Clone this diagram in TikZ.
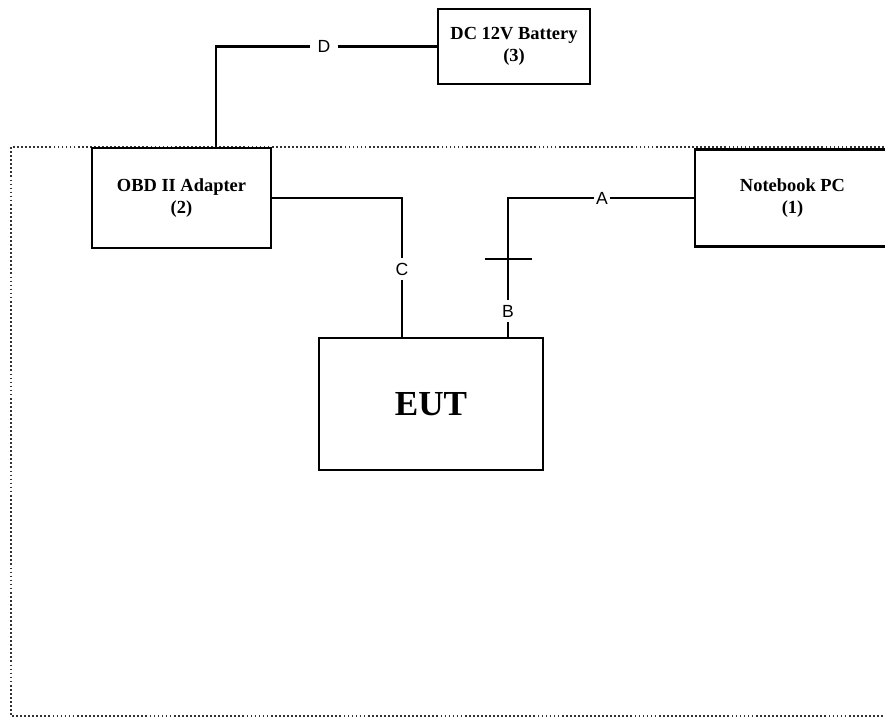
\documentclass[tikz,border=0pt]{standalone}
\usepackage{fontspec}
\setmainfont{Liberation Serif}
\setsansfont{Liberation Sans}
\usetikzlibrary{calc,positioning}

\tikzset{
  unit/.style={draw,line width=1.5pt,align=center,font=\fontsize{10.5}{12.5}\selectfont\bfseries},
  cable/.style={line width=1.5pt},
  cablelbl/.style={fill=white,inner sep=2.5pt,font=\sffamily\fontsize{10}{12}\selectfont}
}

\begin{document}
\begin{tikzpicture}

    \useasboundingbox (0,0) rectangle (17.7,14.38);

    % test area
    \draw[gray!40!black,line width=1.5pt,dash pattern=on 1pt off 1.3pt] (18,11.44) -- (0.22,11.44) -- (0.22,0.06) -- (18,0.06);

    \node (bat) at (10.28,13.45) [unit,minimum width=3.04cm,minimum height=1.5cm] {DC 12V Battery\\(3)};
    \node (obd) at (3.63,10.42) [unit,minimum width=3.58cm,minimum height=2cm] {OBD II Adapter\\(2)};
    \node (nb) at (15.85,10.42) [unit,minimum width=3.9cm,minimum height=1.94cm] {Notebook PC\\(1)};
    \node (eut) at (8.62,6.3) [draw,line width=1.5pt,minimum width=4.48cm,minimum height=2.64cm,font=\fontsize{20}{24}\selectfont\bfseries] {EUT};

    \node (lA) at (12.04,10.42) [cablelbl,inner sep=1pt] {A};
    \node (lB) at (10.16,8.16) [cablelbl] {B};
    \node (lC) at (8.04,9.0) [cablelbl] {C};
    \node (lD) at (6.48,13.45) [cablelbl,inner sep=4pt] {D};
    \coordinate (tick) at (10.16,9.2);

    \draw[cable] ([xshift=0.69cm]obd.north) |- (lD);
    \draw[cable] (lD) -- (bat.west);
    \draw[cable] (obd.east) -| (lC);
    \draw[cable] (lC) -- (lC |- eut.north);
    \draw[cable] (nb.west) -- (lA);
    \draw[cable] (lA) -| (lB);
    \draw[cable] (lB) -- (lB |- eut.north);
    \draw[cable] ([xshift=-0.47cm]tick) -- ([xshift=0.47cm]tick);

\end{tikzpicture}
\end{document}
